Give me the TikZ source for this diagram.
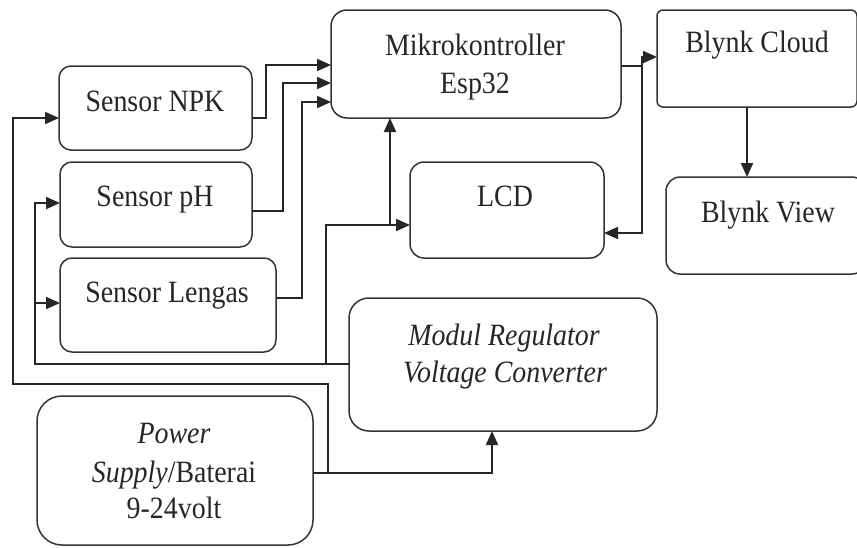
\documentclass[tikz,border=0pt]{standalone}
\usepackage{fontspec}
\setmainfont{Liberation Serif}[FakeStretch=0.9]
\usetikzlibrary{arrows.meta}
\begin{document}
\begin{tikzpicture}[x=1pt,y=-1pt,
  blk/.style={draw=black!80, line width=1.5pt, rounded corners=#1, inner sep=0pt, outer sep=0pt},
  lbl/.style={anchor=base, inner sep=0pt, font=\fontsize{31}{38}\selectfont, text=black!85},
  con/.style={line width=2pt, draw=black!85},
  arr/.style={con, -{Triangle[length=14pt,width=12pt]}}]
\useasboundingbox (0,0) rectangle (857,547);
\clip (0,0) rectangle (857,547);
% boxes
\node[blk=12pt, minimum width=193pt, minimum height=84pt] (npk) at (155.5,108) {};
\node[blk=12pt, minimum width=192pt, minimum height=85pt] (ph) at (156,204.5) {};
\node[blk=12pt, minimum width=216pt, minimum height=94pt] (leng) at (168,305) {};
\node[blk=16pt, minimum width=290pt, minimum height=108pt] (mcu) at (476,64) {};
\node[blk=14pt, minimum width=194pt, minimum height=96pt] (lcd) at (507,210) {};
\node[blk=6pt, minimum width=200pt, minimum height=97pt] (cloud) at (757,58.5) {};
\node[blk=14pt, minimum width=200pt, minimum height=97pt] (view) at (766,225.5) {};
\node[blk=20pt, minimum width=308pt, minimum height=133pt] (reg) at (503,364.5) {};
\node[blk=25pt, minimum width=276pt, minimum height=149pt] (pwr) at (175,470.5) {};
% labels
\node[lbl] (npkT) at (155,111) {Sensor NPK};
\node[lbl] (phT) at (155,206) {Sensor pH};
\node[lbl] (lengT) at (167,302) {Sensor Lengas};
\node[lbl] (mcuT1) at (475,55) {Mikrokontroller};
\node[lbl] (mcuT2) at (475,93) {Esp32};
\node[lbl] (lcdT) at (505,206) {LCD};
\node[lbl] (cloudT) at (757,52) {Blynk Cloud};
\node[lbl] (viewT) at (768,222) {Blynk View};
\node[lbl] (regT1) at (504,345) {\itshape Modul Regulator};
\node[lbl] (regT2) at (505,382) {\itshape Voltage Converter};
\node[lbl] (pwrT1) at (174,443) {\itshape Power};
\node[lbl] (pwrT2) at (174,482) {\textit{Supply}/Baterai};
\node[lbl] (pwrT3) at (174,518) {9-24volt};
% connectors: sensors to MCU
\draw[arr] (npk.east |- 0,118) -| (266,65) -- (mcu.west |- 0,65);
\draw[arr] (ph.east |- 0,211) -| (283,83) -- (mcu.west |- 0,83);
\draw[arr] (leng.east |- 0,298) -| (302,102) -- (mcu.west |- 0,102);
% MCU to cloud and LCD
\coordinate (j1) at (642,66);
\draw[con] (mcu.east |- j1) -- (j1);
\draw[arr] (j1) |- (cloud.west |- 0,57);
\draw[arr] (j1) |- (lcd.east |- 0,233);
% cloud to view
\draw[arr] (cloud.south -| 747,0) -- (view.north -| 747,0);
% regulator outputs
\coordinate (j2) at (326,364);
\coordinate (j3) at (390,225);
\coordinate (j4) at (35,303);
\draw[con] (reg.west |- j2) -- (j2);
\draw[arr] (j2) |- (lcd.west |- j3);
\draw[arr] (j3) -- (mcu.south -| j3);
\draw[arr] (j2) -| (35,203) -- (ph.west |- 0,203);
\draw[arr] (j4) -- (leng.west |- j4);
% power supply
\coordinate (j5) at (328,473);
\draw[arr] (pwr.east |- j5) -| (reg.south -| 492,0);
\draw[arr] (j5) |- (13,384) |- (npk.west |- 0,118);
\end{tikzpicture}
\end{document}
